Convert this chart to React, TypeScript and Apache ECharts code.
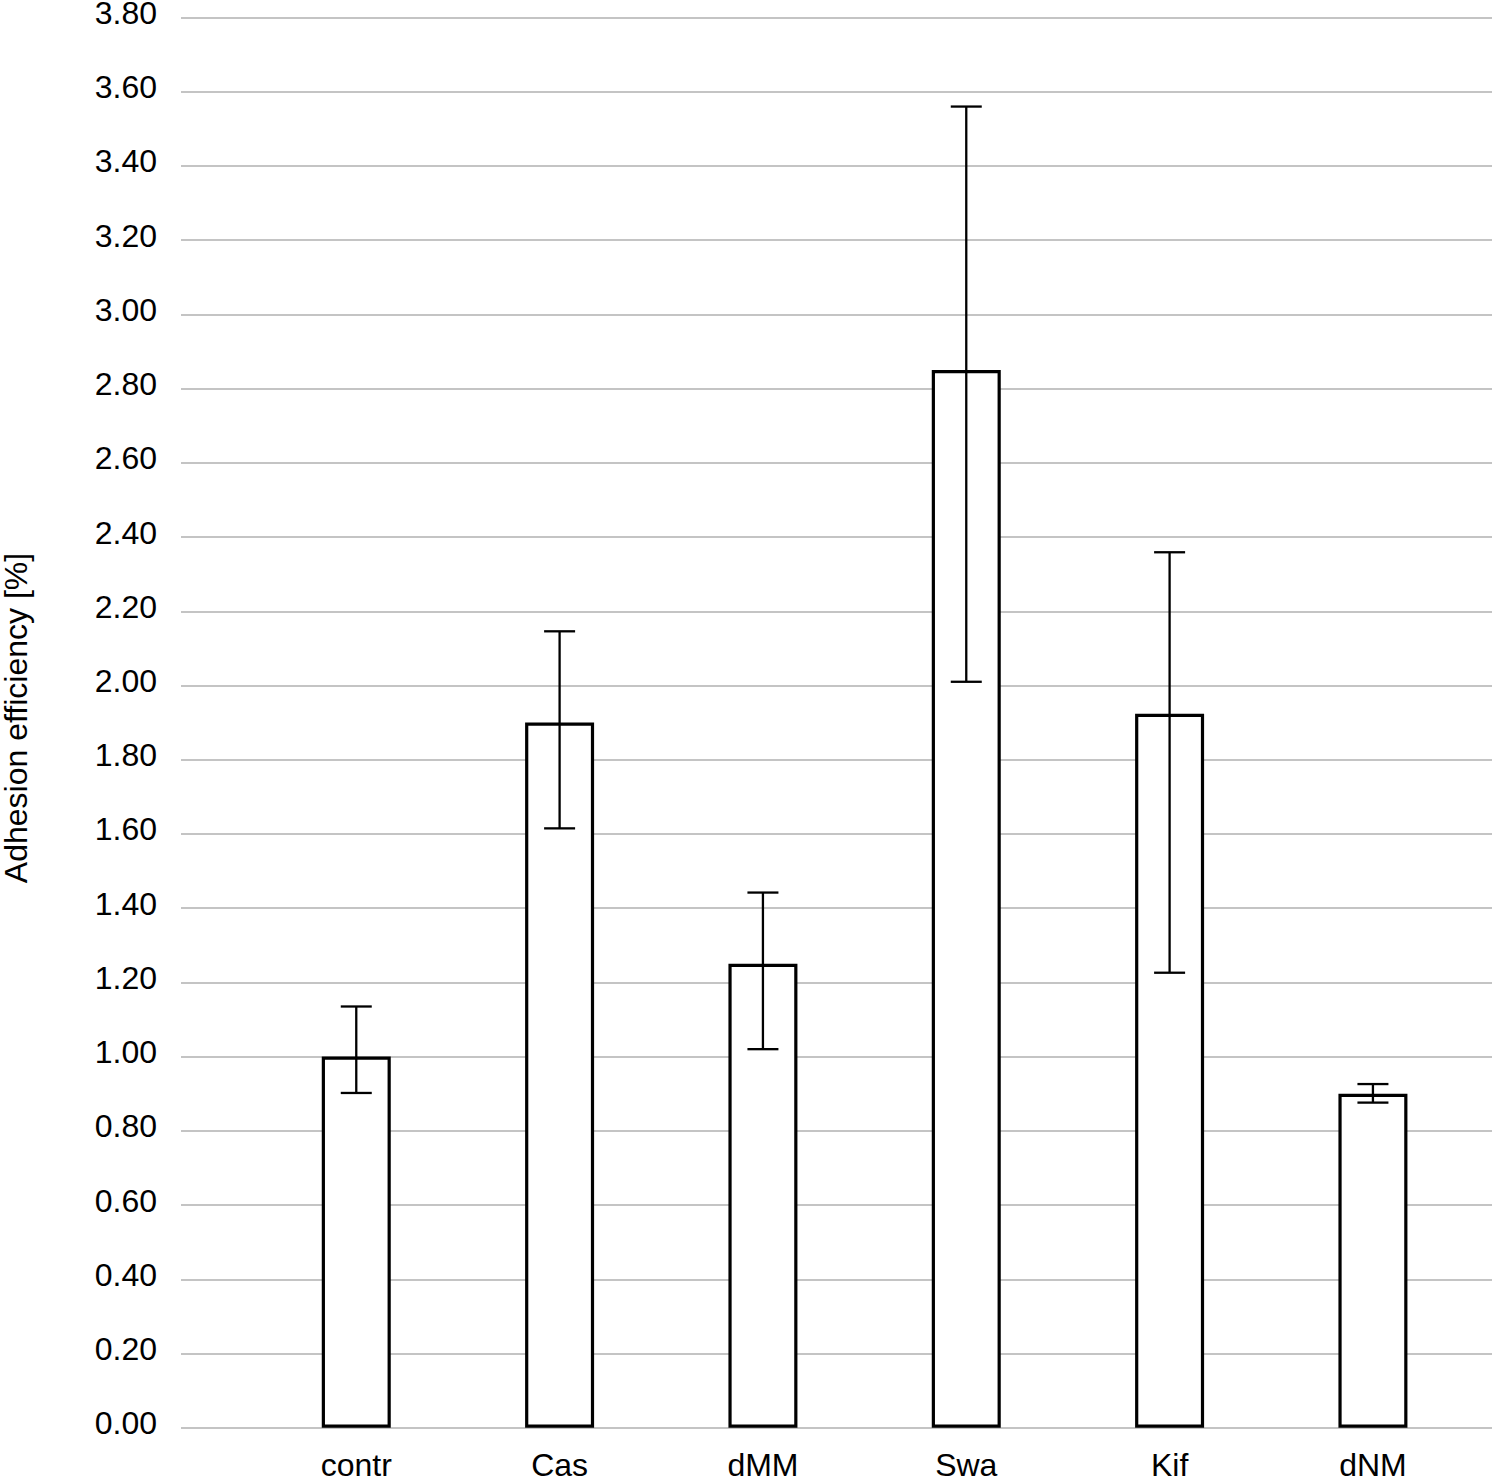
import React, { useEffect, useRef } from "react";
import * as echarts from "echarts";

const categories = ["contr", "Cas", "dMM", "Swa", "Kif", "dNM"];
const means = [1.0, 1.9, 1.25, 2.85, 1.924, 0.9];
const errLow = [0.902, 1.615, 1.02, 2.01, 1.226, 0.876];
const errHigh = [1.135, 2.146, 1.442, 3.56, 2.359, 0.926];
const yMin = 0;
const yMax = 3.8;
const yStep = 0.2;
const yTitle = "Adhesion efficiency [%]";

const FONT = "Liberation Sans, Arial, Helvetica, sans-serif";

export default function App() {
  const ref = useRef<HTMLDivElement>(null);
  useEffect(() => {
    if (!ref.current) return;
    const chart = echarts.init(ref.current, undefined, { renderer: "svg" });
    const errData = categories.map((c, i) => [i, errLow[i], errHigh[i]]);
    chart.setOption({
      animation: false,
      backgroundColor: "#ffffff",
      grid: [
        { left: 181, right: 0, top: 17.5, bottom: 50.3, outerBoundsMode: "none", containLabel: false },
        { left: 254.6, right: 17.4, top: 17.5, bottom: 50.3, outerBoundsMode: "none", containLabel: false },
      ],
      xAxis: [
        { type: "value", gridIndex: 0, show: false, min: 0, max: 1 },
        {
          type: "category",
          gridIndex: 1,
          data: categories,
          axisLine: { show: false },
          axisTick: { show: false },
          axisLabel: {
            color: "#000",
            fontSize: 32,
            fontFamily: FONT,
            margin: 21,
          },
        },
      ],
      yAxis: [
        {
          type: "value",
          gridIndex: 0,
          min: yMin,
          max: yMax,
          interval: yStep,
          axisLine: { show: false },
          axisTick: { show: false },
          axisLabel: {
            color: "#000",
            fontSize: 32,
            fontFamily: FONT,
            margin: 24,
            lineHeight: 9,
            verticalAlign: "bottom",
            formatter: (v: number) => v.toFixed(2),
          },
          splitLine: { lineStyle: { color: "#c4c4c4", width: 2 } },
        },
        {
          type: "value",
          gridIndex: 1,
          min: yMin,
          max: yMax,
          interval: yStep,
          show: false,
        },
      ],
      graphic: [
        {
          type: "text",
          x: 16,
          y: 718,
          rotation: Math.PI / 2,
          style: {
            text: yTitle,
            font: `32px ${FONT}`,
            fill: "#000",
            textAlign: "center",
            textVerticalAlign: "middle",
          },
        },
      ],
      series: [
        {
          type: "bar",
          xAxisIndex: 1,
          yAxisIndex: 1,
          data: means,
          barWidth: 69,
          itemStyle: {
            color: "#ffffff",
            borderColor: "#000",
            borderWidth: 3.2,
          },
          z: 2,
        },
        {
          type: "custom",
          xAxisIndex: 1,
          yAxisIndex: 1,
          z: 5,
          data: errData,
          renderItem: (params: any, api: any) => {
            const i = api.value(0);
            const lo = api.coord([i, api.value(1)]);
            const hi = api.coord([i, api.value(2)]);
            const half = 15.5;
            const style = { stroke: "#000", lineWidth: 2.3 };
            return {
              type: "group",
              children: [
                { type: "line", shape: { x1: lo[0], y1: lo[1], x2: hi[0], y2: hi[1] }, style },
                { type: "line", shape: { x1: hi[0] - half, y1: hi[1], x2: hi[0] + half, y2: hi[1] }, style },
                { type: "line", shape: { x1: lo[0] - half, y1: lo[1], x2: lo[0] + half, y2: lo[1] }, style },
              ],
            };
          },
        },
      ],
    });
    return () => chart.dispose();
  }, []);
  return (
    <div
      ref={ref}
      style={{ position: "absolute", left: 0, top: 0, width: 1492, height: 1478 }}
    />
  );
}
